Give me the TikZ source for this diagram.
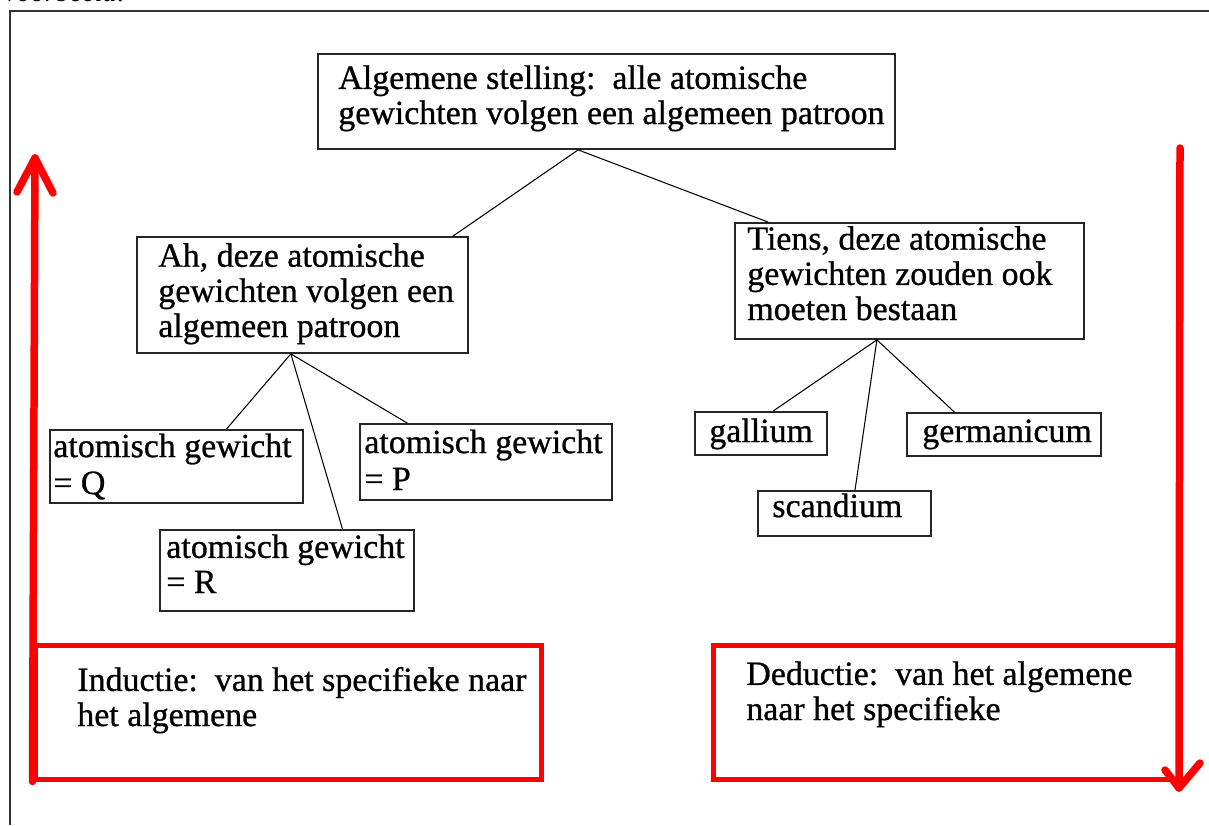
\documentclass[tikz,border=0pt]{standalone}
\usepackage{fontspec}
\setmainfont{Liberation Serif}
% slightly heavier face for the box texts
\newfontfamily\boxfont[FakeBold=0.8]{Liberation Serif}
\usetikzlibrary{fit,calc}
\begin{document}
\begin{tikzpicture}[x=0.02cm,y=-0.02cm,
  box/.style={draw=black!85, line width=1pt, inner sep=0pt, rectangle},
  % text nodes are placed at the baseline of their last line
  txt/.style={anchor=base west, inner sep=0pt, align=left,
    font=\boxfont\fontsize{19.3}{20}\selectfont},
  link/.style={draw=black, line width=0.6pt},
  redbox/.style={draw=red, line width=0.1cm, inner sep=0pt, rectangle},
  redline/.style={draw=red, line width=0.15cm, line cap=round, line join=round},
  frame/.style={draw=black!80, line width=0.04cm}]
\useasboundingbox (0,0) rectangle (1209,825);

% page frame and heading above it
\node[anchor=base west, inner sep=0pt, font=\fontsize{16}{18}\selectfont\itshape] (head) at (4,1) {voorbeeld:};
\draw[frame] (10,825) -- (10,11) -- (1209,11);

% boxes
\node[box, fit={(318,54)(895,149)}] (gen) {};
\node[box, fit={(137,237)(468,353)}] (ah) {};
\node[box, fit={(735,223)(1084,339)}] (tiens) {};
\node[box, fit={(50,430)(303,503)}] (q) {};
\node[box, fit={(360,424)(612,500)}] (p) {};
\node[box, fit={(160,530)(414,611)}] (r) {};
\node[box, fit={(695,412)(827,455)}] (ga) {};
\node[box, fit={(907,413)(1101,456)}] (ge) {};
\node[box, fit={(758,491)(931,536)}] (sc) {};

% box texts
\node[txt] at (338,124) {Algemene stelling:\ \ alle atomische\\gewichten volgen een algemeen patroon};
\node[txt] at (158,337) {Ah, deze atomische\\gewichten volgen een\\algemeen patroon};
\node[txt] at (747,320) {Tiens, deze atomische\\gewichten zouden ook\\moeten bestaan};
\node[txt, font=\boxfont\fontsize{19.3}{21}\selectfont] at (53,494) {atomisch gewicht\\= Q};
\node[txt, font=\boxfont\fontsize{19.3}{21}\selectfont] at (364,490) {atomisch gewicht\\= P};
\node[txt] at (166,593) {atomisch gewicht\\= R};
\node[txt] at (709,442) {gallium};
\node[txt] at (922,442) {germanicum};
\node[txt] at (772,517) {scandium};

% connectors
\draw[link] ($(gen.south west)!.451!(gen.south east)$) -- ($(ah.north west)!.952!(ah.north east)$);
\draw[link] ($(gen.south west)!.451!(gen.south east)$) -- ($(tiens.north west)!.097!(tiens.north east)$);
\draw[link] ($(ah.south west)!.465!(ah.south east)$) -- ($(q.north west)!.696!(q.north east)$);
\draw[link] ($(ah.south west)!.465!(ah.south east)$) -- ($(r.north west)!.717!(r.north east)$);
\draw[link] ($(ah.south west)!.465!(ah.south east)$) -- ($(p.north west)!.19!(p.north east)$);
\draw[link] ($(tiens.south west)!.407!(tiens.south east)$) -- ($(ga.north west)!.59!(ga.north east)$);
\draw[link] ($(tiens.south west)!.407!(tiens.south east)$) -- ($(sc.north west)!.56!(sc.north east)$);
\draw[link] ($(tiens.south west)!.407!(tiens.south east)$) -- ($(ge.north west)!.247!(ge.north east)$);

% induction: bottom-up arrow with its box
\node[redbox, fit={(35,645)(541,779)}] (ind) {};
\node[txt] at (77,726) {Inductie:\ \ van het specifieke naar\\het algemene};
\coordinate (indtip) at (35,158);
\coordinate (indl) at (17,192);
\coordinate (indr) at (53,193);
\draw[redline] (ind.south west) -- (indtip);
\draw[redline] (indl) -- (indtip) -- (indr);

% deduction: top-down arrow with its box
\node[redbox, fit={(713,645)(1178,779)}] (ded) {};
\node[txt] at (746,720) {Deductie:\ \ van het algemene\\naar het specifieke};
\coordinate (dedtop) at (1180,148);
\coordinate (dedtip) at (1179,788);
\coordinate (dedl) at (1165,770);
\coordinate (dedr) at (1200,763);
\draw[redline] (dedtop) -- (dedtip);
\draw[redline] (dedl) -- (dedtip) -- (dedr);
\end{tikzpicture}
\end{document}
